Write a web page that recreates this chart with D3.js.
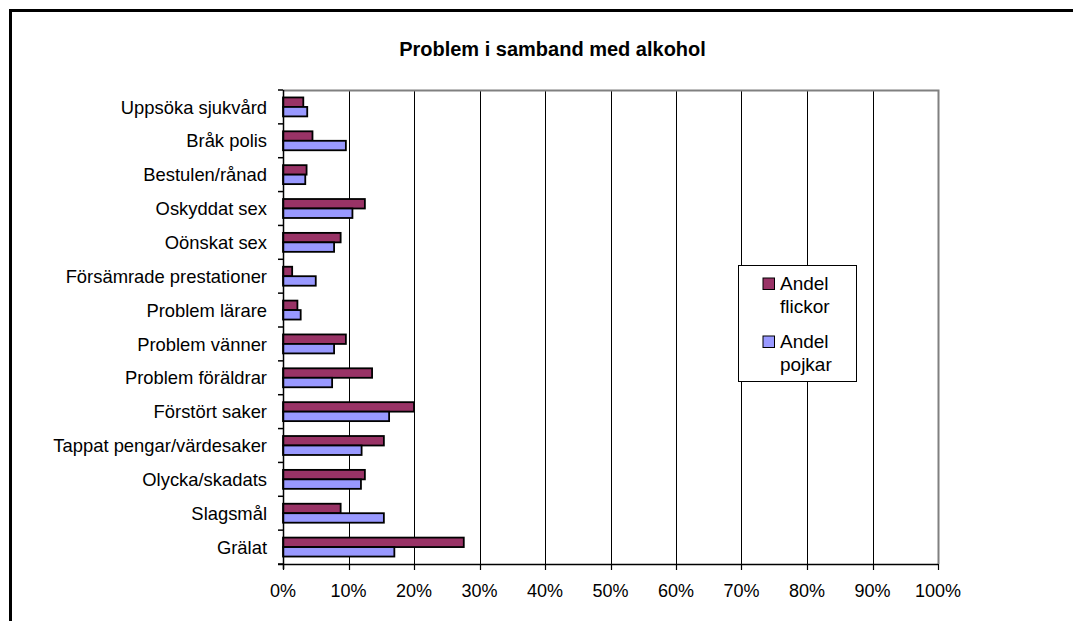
<!DOCTYPE html>
<html>
<head>
<meta charset="utf-8">
<script src="https://cdn.jsdelivr.net/npm/d3@7"></script>
<style>
  html, body { margin: 0; padding: 0; background: #fff; }
  svg { display: block; font-family: Arial, "Liberation Sans", sans-serif; }
</style>
</head>
<body>
<svg id="chart" width="1073" height="621"></svg>
<script>
const title = "Problem i samband med alkohol";
const categories = [
  "Uppsöka sjukvård", "Bråk polis", "Bestulen/rånad", "Oskyddat sex", "Oönskat sex",
  "Försämrade prestationer", "Problem lärare", "Problem vänner", "Problem föräldrar",
  "Förstört saker", "Tappat pengar/värdesaker", "Olycka/skadats", "Slagsmål", "Grälat"
];
const seriesNames = ["Andel flickor", "Andel pojkar"];
const flickor = [3.1, 4.5, 3.6, 12.5, 8.8, 1.4, 2.2, 9.6, 13.6, 20.0, 15.4, 12.5, 8.8, 27.6];
const pojkar  = [3.7, 9.6, 3.4, 10.6, 7.8, 5.0, 2.7, 7.8, 7.5, 16.2, 12.0, 11.9, 15.4, 17.0];
const xTicks = [0, 10, 20, 30, 40, 50, 60, 70, 80, 90, 100];
const colors = ["#993366", "#9999FF"];

(function () {
const svg = d3.select("#chart");
const pL = 283, pR = 938, pT = 90, pB = 564;

// outer border
svg.append("rect").attr("x", 10.5).attr("y", 10.5).attr("width", 1100).attr("height", 700)
  .attr("fill", "#fff").attr("stroke", "#000").attr("stroke-width", 3);

// title
svg.append("text").attr("x", 552.5).attr("y", 55.5).attr("text-anchor", "middle")
  .attr("font-weight", "bold").attr("font-size", 20).text(title);

const x = d3.scaleLinear().domain([0, 100]).range([pL, pR]);
const y = d3.scaleBand().domain(categories).range([pT, pB]).paddingInner(0.44).paddingOuter(0.22);
const ySub = d3.scaleBand().domain([0, 1]).range([0, y.bandwidth()]);

// gridlines
svg.append("g").selectAll("line").data(xTicks.slice(1, -1)).join("line")
  .attr("x1", d => Math.round(x(d)) + 0.5).attr("x2", d => Math.round(x(d)) + 0.5)
  .attr("y1", pT).attr("y2", pB).attr("stroke", "#000").attr("stroke-width", 1);

// plot frame top/right (grey)
svg.append("path")
  .attr("d", `M${pL},${pT + 0.5}H${Math.round(pR) + 0.5}V${pB}`)
  .attr("fill", "none").attr("stroke", "#808080").attr("stroke-width", 2);

// bars
const data = categories.map((c, i) => ({ c, vals: [flickor[i], pojkar[i]] }));
const groups = svg.append("g").selectAll("g").data(data).join("g")
  .attr("transform", d => `translate(0,${y(d.c)})`);
groups.selectAll("rect").data(d => d.vals.map((v, k) => ({ v, k }))).join("rect")
  .attr("x", x(0)).attr("y", d => ySub(d.k))
  .attr("width", d => x(d.v) - x(0)).attr("height", ySub.bandwidth())
  .attr("fill", d => colors[d.k]).attr("stroke", "#000").attr("stroke-width", 1.8);

// y axis
const yTickPos = d3.range(categories.length + 1).map(i => pT + i * (pB - pT) / categories.length);
svg.append("line").attr("x1", pL + 0.5).attr("x2", pL + 0.5).attr("y1", pT).attr("y2", pB + 5)
  .attr("stroke", "#000").attr("stroke-width", 1.5);
svg.append("g").selectAll("line").data(yTickPos).join("line")
  .attr("x1", pL - 5).attr("x2", pL).attr("y1", d => d).attr("y2", d => d)
  .attr("stroke", "#000").attr("stroke-width", 1.5);
svg.append("g").selectAll("text").data(categories).join("text")
  .attr("x", 267).attr("y", d => y(d) + y.bandwidth() / 2 + 6.6)
  .attr("text-anchor", "end").attr("font-size", 18.4).attr("fill", "#000").text(d => d);

// x axis
svg.append("line").attr("x1", pL - 5).attr("x2", pR).attr("y1", pB + 0.5).attr("y2", pB + 0.5)
  .attr("stroke", "#000").attr("stroke-width", 1.5);
svg.append("g").selectAll("line").data(xTicks).join("line")
  .attr("x1", d => Math.round(x(d)) + 0.5).attr("x2", d => Math.round(x(d)) + 0.5)
  .attr("y1", pB).attr("y2", pB + 6).attr("stroke", "#000").attr("stroke-width", 1.2);
svg.append("g").selectAll("text").data(xTicks).join("text")
  .attr("x", d => x(d)).attr("y", 597).attr("text-anchor", "middle")
  .attr("font-size", 18).text(d => d + "%");

// legend
const lg = svg.append("g");
lg.append("rect").attr("x", 738.5).attr("y", 265.5).attr("width", 118).attr("height", 116)
  .attr("fill", "#fff").attr("stroke", "#000").attr("stroke-width", 1);
seriesNames.forEach((n, k) => {
  const by = k === 0 ? 290 : 348;
  lg.append("rect").attr("x", 763).attr("y", by - 12).attr("width", 11.5).attr("height", 11.5)
    .attr("fill", colors[k]).attr("stroke", "#000").attr("stroke-width", 1);
  n.split(" ").forEach((t, j) => {
    lg.append("text").attr("x", 780).attr("y", by + j * 23).attr("font-size", 19).text(t);
  });
});
})();
</script>
</body>
</html>
